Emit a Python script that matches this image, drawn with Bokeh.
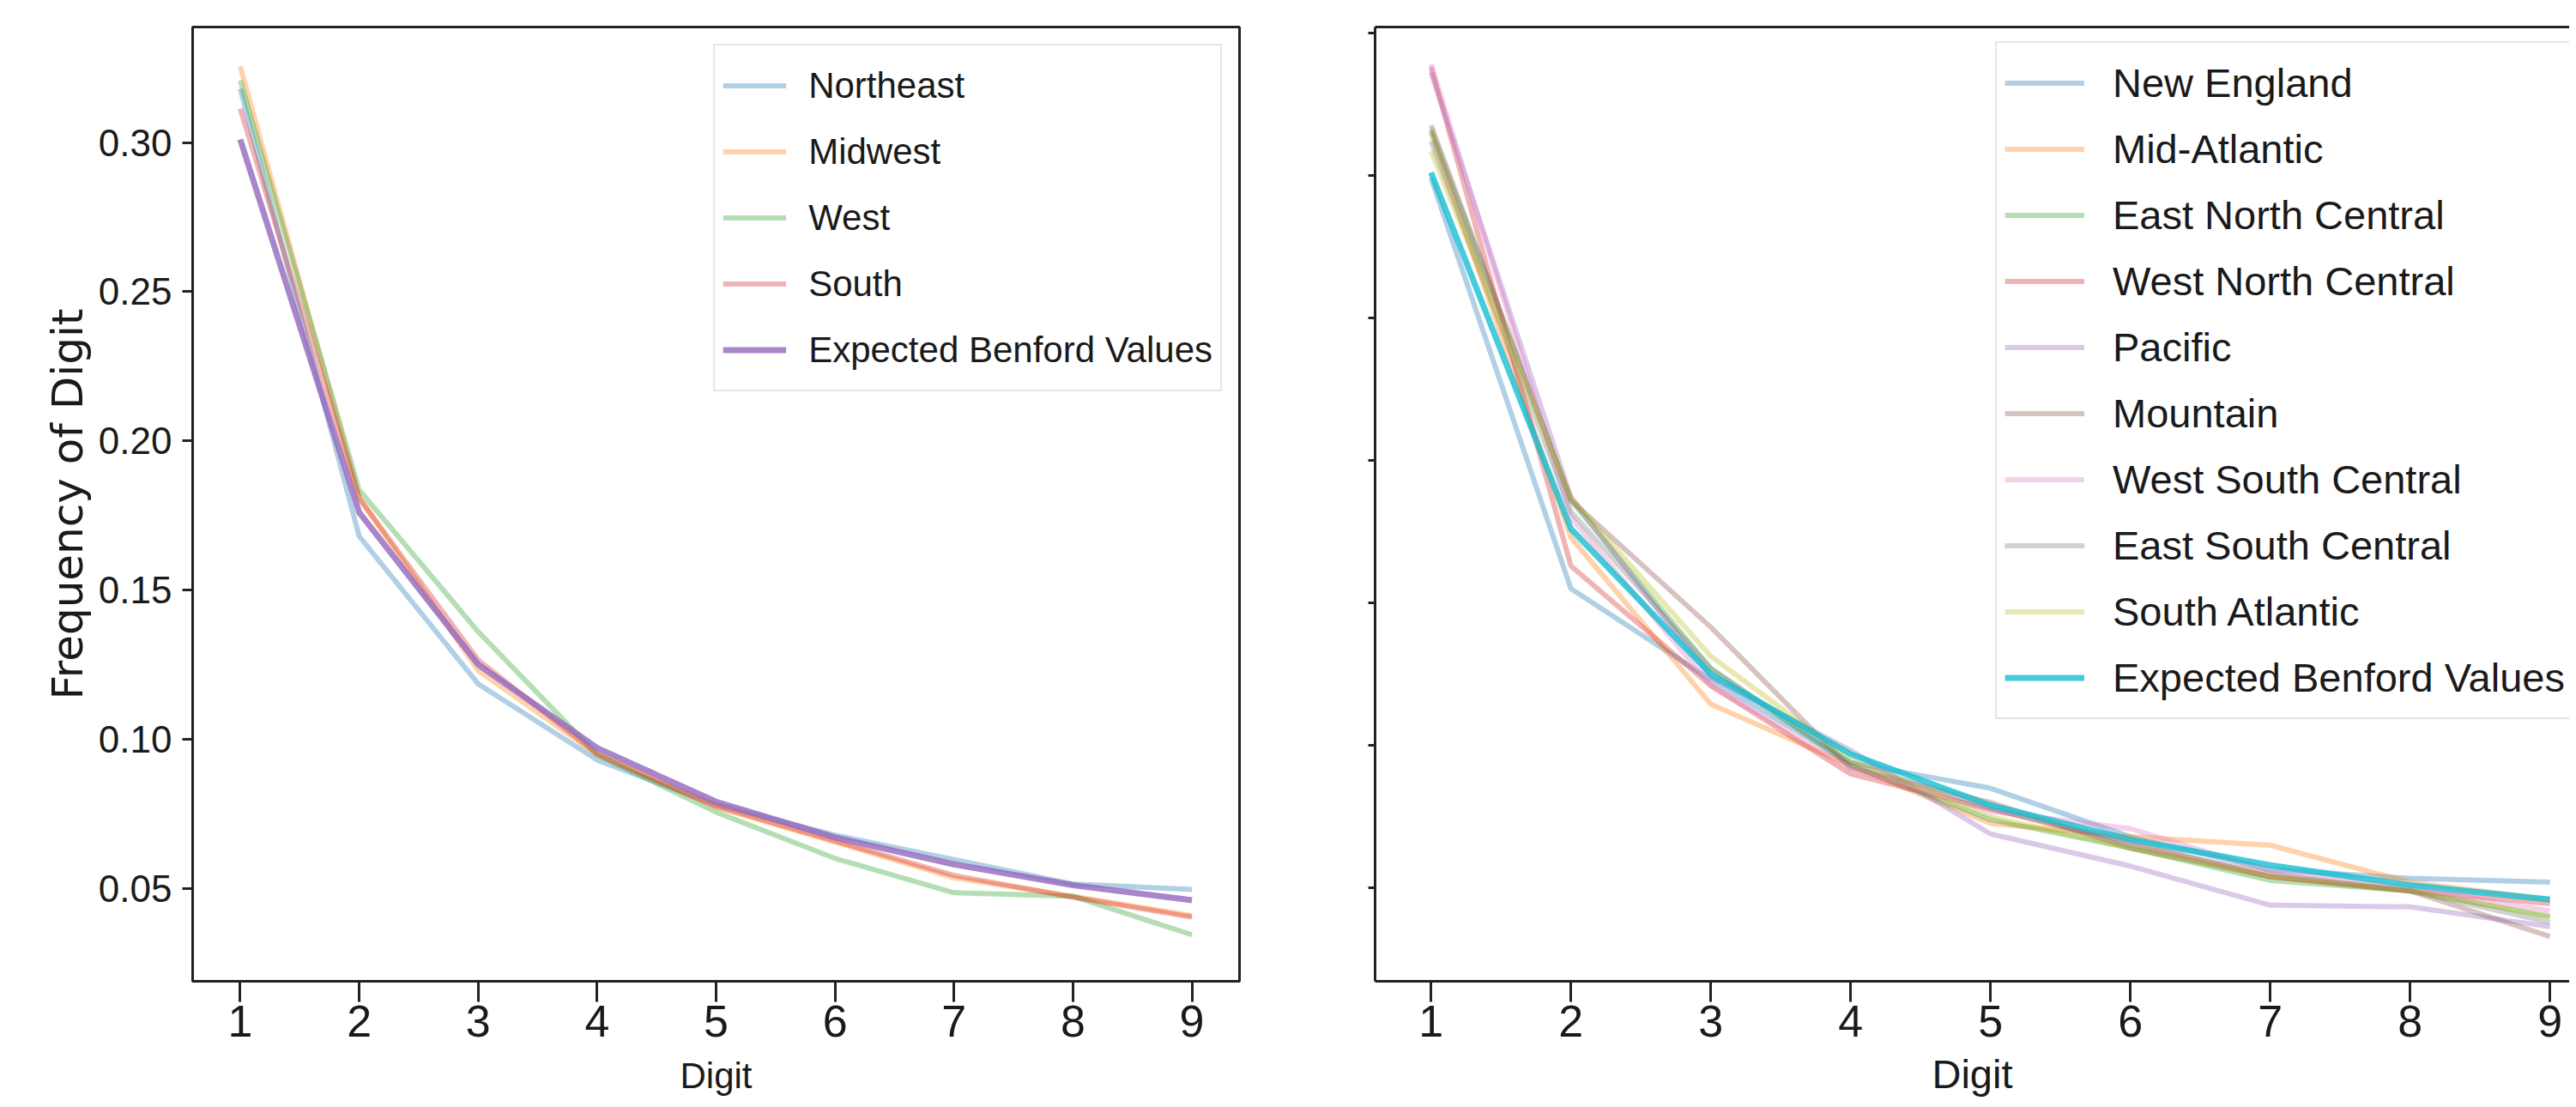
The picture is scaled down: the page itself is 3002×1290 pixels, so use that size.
from bokeh.plotting import figure
from bokeh.layouts import row
from bokeh.models import (FixedTicker, PrintfTickFormatter, CustomJSTickFormatter,
                          Range1d, LinearAxis, Legend, LegendItem)
from bokeh.embed import file_html
from bokeh.resources import INLINE

# ---------------- data ----------------
digits = [1, 2, 3, 4, 5, 6, 7, 8, 9]

# left panel: census regions
northeast = [0.318, 0.168, 0.1185, 0.093, 0.078, 0.0678, 0.0596, 0.0514, 0.0496]
midwest = [0.3255, 0.181, 0.123, 0.0948, 0.0772, 0.0655, 0.0535, 0.0473, 0.0408]
west = [0.3208, 0.1835, 0.136, 0.0948, 0.0755, 0.0600, 0.0485, 0.0473, 0.0344]
south = [0.3113, 0.1807, 0.1265, 0.0950, 0.0775, 0.0658, 0.0543, 0.0470, 0.0403]
benford = [0.301, 0.176, 0.125, 0.097, 0.079, 0.067, 0.058, 0.051, 0.046]

# right panel: census divisions
new_england = [0.299, 0.155, 0.123, 0.094, 0.085, 0.068, 0.0565, 0.0534, 0.0521]
mid_atlantic = [0.315, 0.173, 0.1145, 0.093, 0.0727, 0.068, 0.065, 0.052, 0.046]
east_north_central = [0.316, 0.186, 0.127, 0.093, 0.074, 0.064, 0.0527, 0.049, 0.040]
west_north_central = [0.338, 0.163, 0.121, 0.090, 0.0777, 0.066, 0.054, 0.049, 0.0445]
pacific = [0.336, 0.187, 0.124, 0.0983, 0.069, 0.0577, 0.044, 0.0434, 0.0365]
mountain = [0.3175, 0.186, 0.1415, 0.092, 0.080, 0.064, 0.054, 0.049, 0.033]
west_south_central = [0.339, 0.180, 0.121, 0.092, 0.077, 0.0708, 0.056, 0.050, 0.042]
east_south_central = [0.312, 0.182, 0.127, 0.094, 0.078, 0.065, 0.055, 0.049, 0.038]
south_atlantic = [0.3085, 0.187, 0.1313, 0.095, 0.075, 0.064, 0.054, 0.049, 0.040]

left_names = ["Northeast", "Midwest", "West", "South"]
right_names = ["New England", "Mid-Atlantic", "East North Central", "West North Central",
               "Pacific", "Mountain", "West South Central", "East South Central",
               "South Atlantic"]
expected_name = "Expected Benford Values"
x_title = "Digit"
y_title = "Frequency of Digit"

left_yticks = [0.05, 0.10, 0.15, 0.20, 0.25, 0.30]
right_yticks = [0.05, 0.10, 0.15, 0.20, 0.25, 0.30, 0.35]

tab10 = ["#1f77b4", "#ff7f0e", "#2ca02c", "#d62728", "#9467bd",
         "#8c564b", "#e377c2", "#7f7f7f", "#bcbd22", "#17becf"]

FONT = "Liberation Sans"
TXT = "#1a1a1a"
SPINE = "#222222"


def base_style(p, xlabel_size, xlabel_standoff):
    p.xgrid.visible = False
    p.ygrid.visible = False
    p.background_fill_color = "white"
    p.border_fill_color = "white"
    for ax in (p.xaxis[0], p.yaxis[0]):
        ax.axis_line_color = SPINE
        ax.axis_line_width = 3
        ax.major_tick_line_color = SPINE
        ax.major_tick_line_width = 3
        ax.major_tick_in = 0
        ax.minor_tick_line_color = None
        ax.major_label_text_color = TXT
        ax.axis_label_text_color = TXT
        ax.axis_label_text_font_style = "normal"
    xa = p.xaxis[0]
    xa.ticker = FixedTicker(ticks=digits)
    xa.major_tick_out = 24
    xa.major_label_standoff = 4
    xa.major_label_text_font = FONT
    xa.major_label_text_font_size = "52px"
    xa.axis_label = x_title
    xa.axis_label_text_font = FONT
    xa.axis_label_text_font_size = xlabel_size
    xa.axis_label_standoff = xlabel_standoff


# ---------------- left panel ----------------
p1 = figure(width=1500, height=1282, x_range=Range1d(0.6, 9.4),
            y_range=Range1d(0.0188, 0.3387), output_backend="svg",
            toolbar_location=None, min_border_left=224, min_border_right=56,
            min_border_top=31, min_border_bottom=139)
base_style(p1, "42px", 19)
p1.outline_line_color = SPINE
p1.outline_line_width = 3
p1.outline_line_alpha = 1.0
ya = p1.yaxis[0]
ya.ticker = FixedTicker(ticks=left_yticks)
ya.formatter = PrintfTickFormatter(format="%.2f")
ya.major_tick_out = 12
ya.major_label_standoff = 12
ya.major_label_text_font = FONT
ya.major_label_text_font_size = "44px"
ya.axis_label = y_title
ya.axis_label_text_font = "DejaVu Sans"
ya.axis_label_text_font_size = "50px"
ya.axis_label_standoff = 4

items1 = []
for name, vals, col in zip(left_names, [northeast, midwest, west, south], tab10[:4]):
    r = p1.line(digits, vals, line_color=col, line_alpha=0.35, line_width=6)
    items1.append(LegendItem(label=name, renderers=[r]))
r = p1.line(digits, benford, line_color=tab10[4], line_alpha=0.8, line_width=7)
items1.append(LegendItem(label=expected_name, renderers=[r]))

leg1 = Legend(items=items1, location="top_right", margin=20, padding=9,
              spacing=2, glyph_width=74, glyph_height=75, label_height=75,
              label_standoff=26, label_text_font=FONT,
              label_text_font_size="42px", label_text_color=TXT,
              border_line_color="#cccccc", border_line_width=2,
              background_fill_color="white", background_fill_alpha=0.8)
p1.add_layout(leg1)

# ---------------- right panel ----------------
p2 = figure(width=1494, height=1282, x_range=Range1d(0.6, 9.14),
            y_range=Range1d(0.0173, 0.352), output_backend="svg",
            toolbar_location=None, min_border_left=102, min_border_right=0,
            min_border_top=31, min_border_bottom=139)
base_style(p2, "47px", 14)
p2.outline_line_color = None
ya2 = p2.yaxis[0]
ya2.ticker = FixedTicker(ticks=right_yticks)
ya2.formatter = CustomJSTickFormatter(code="return ''")
ya2.major_tick_out = 8
ya2.major_label_standoff = 0

top_axis = LinearAxis(ticker=FixedTicker(ticks=[]), axis_line_color=SPINE,
                      axis_line_width=3, major_tick_line_color=None,
                      minor_tick_line_color=None, major_label_standoff=0)
p2.add_layout(top_axis, "above")

series2 = [new_england, mid_atlantic, east_north_central, west_north_central,
           pacific, mountain, west_south_central, east_south_central, south_atlantic]
items2 = []
for name, vals, col in zip(right_names, series2, tab10[:9]):
    r = p2.line(digits, vals, line_color=col, line_alpha=0.35, line_width=6)
    items2.append(LegendItem(label=name, renderers=[r]))
r = p2.line(digits, benford, line_color=tab10[9], line_alpha=0.8, line_width=7)
items2.append(LegendItem(label=expected_name, renderers=[r]))

leg2 = Legend(items=items2, location=(723, 305), padding=9, spacing=2,
              glyph_width=93, glyph_height=75, label_height=75,
              label_standoff=33, label_text_font=FONT,
              label_text_font_size="47px", label_text_color=TXT,
              border_line_color="#cccccc", border_line_width=2,
              background_fill_color="white", background_fill_alpha=0.8)
p2.add_layout(leg2)

layout = row(p1, p2, spacing=0)
open("out.html", "w").write(file_html(layout, INLINE))
